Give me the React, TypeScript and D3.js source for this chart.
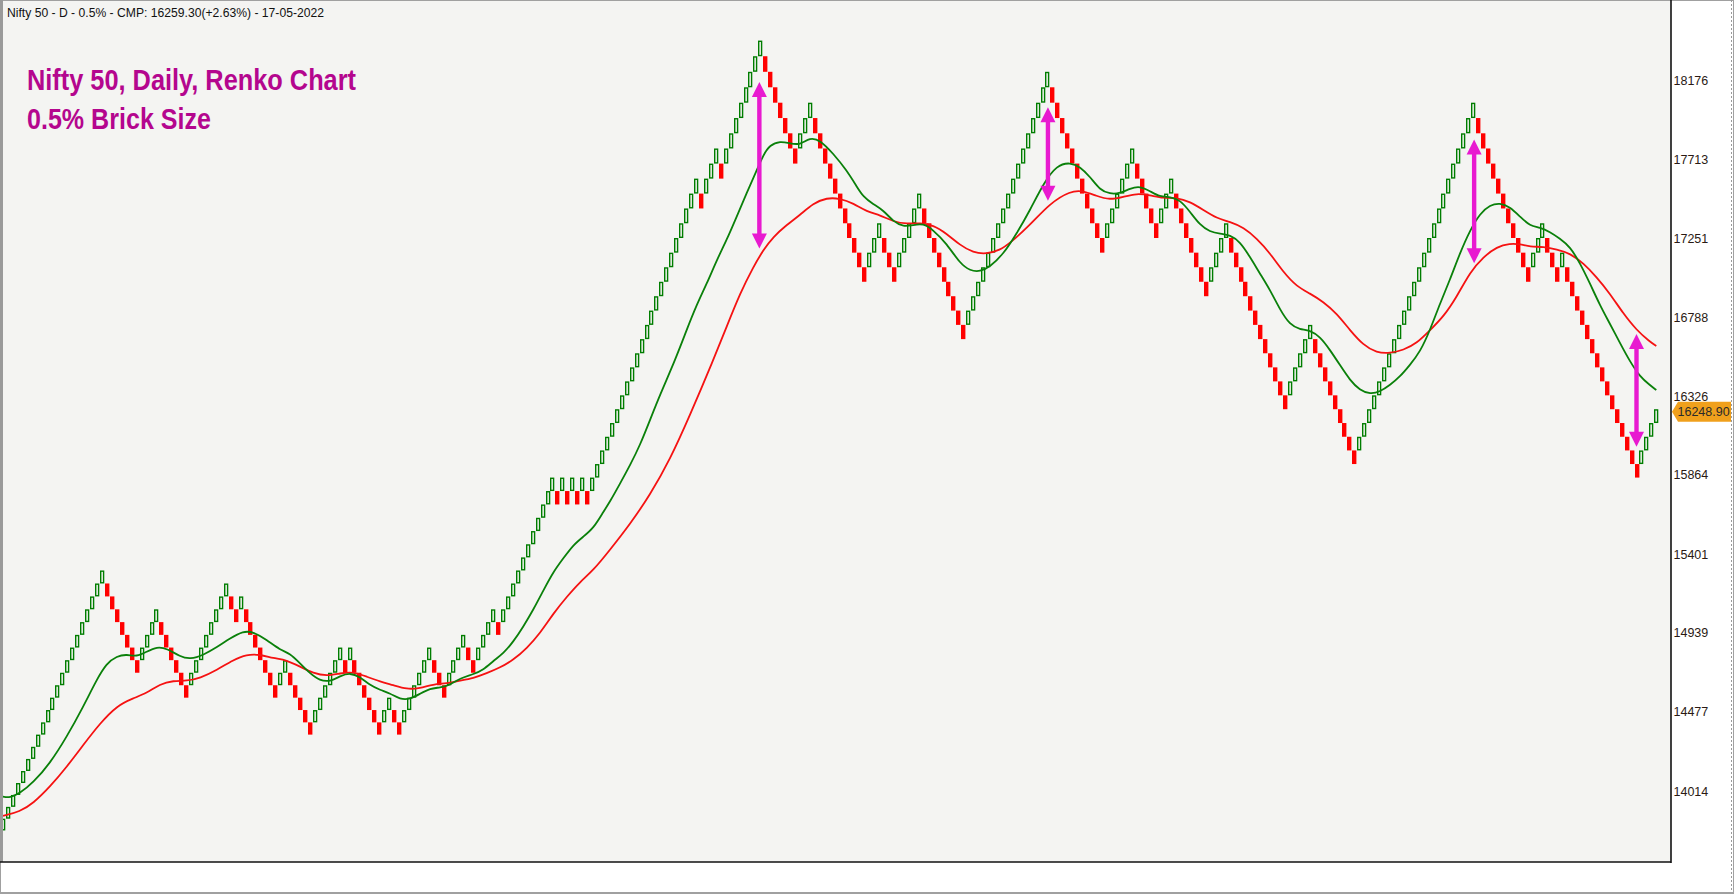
import React, { useEffect, useRef } from 'react';
import * as d3 from 'd3';

// Renko settings
const BRICK_PCT = 0.5;
const START_PRICE = 13783.0;
const LAST_CLOSE = 16248.9;

// consecutive brick runs, + = up (green), - = down (red)
const brickRuns = [
  21, -7, 4, -6, 8, -2, 1, -7, 2, -5, 6, -1, 1, -6, 2, -2, 6, -3, 4, -2, 4, -1,
  11, -1, 1, -1, 1, -1, 1, -1, 22, -1, 3, -1, 8, -7, 3, -11, 3, -3, 5, -9, 17,
  -11, 6, -5, 3, -7, 4, -12, 5, -9, 24, -11, 3, -3, 1, -15, 4,
];

const yTickValues = [14014, 14477, 14939, 15401, 15864, 16326, 16788, 17251, 17713, 18176];

// fast moving average [brick index, price]
const greenMa: [number, number][] = [
  [0, 13981], [1.4, 13975], [3.4, 14000], [6.1, 14063], [9.5, 14176], [12.9, 14332],
  [16.2, 14507], [18.9, 14664], [20.9, 14761], [23, 14804], [25, 14814], [27, 14800],
  [29, 14829], [31.1, 14859], [33.1, 14849], [35.8, 14800], [37.8, 14785], [40.5, 14810],
  [43.2, 14855], [45.9, 14908], [48.5, 14950], [50.6, 14946], [53.3, 14898], [56, 14839],
  [58, 14820], [60, 14761], [62, 14703], [64, 14660], [66.1, 14654], [68.1, 14687],
  [70.1, 14706], [72.1, 14683], [74.1, 14634], [76.2, 14605], [78.2, 14586], [80.2, 14551],
  [82.2, 14551], [84.2, 14582], [86.3, 14615], [88.3, 14619], [90.3, 14634], [92.3, 14674],
  [95, 14697], [97, 14722], [99.1, 14777], [101.1, 14820], [103.1, 14888], [105.1, 14976],
  [107.1, 15073], [109.2, 15190], [111.2, 15298], [113.2, 15376], [115.2, 15454],
  [117.2, 15502], [119.3, 15552], [121.3, 15649], [122.6, 15707], [124.6, 15811],
  [126.7, 15922], [128.7, 16039], [130.7, 16185], [132.7, 16332], [135.8, 16537],
  [138.1, 16712], [140.1, 16858], [142.2, 16985], [144.2, 17122], [146.2, 17240],
  [148.2, 17375], [150.2, 17512], [152.3, 17649], [153.6, 17737], [154.9, 17795],
  [157, 17819], [159, 17805], [161, 17795], [163, 17840], [165.1, 17824], [167.7, 17746],
  [170.4, 17649], [172.5, 17551], [173.8, 17492], [175.8, 17449], [177.8, 17415],
  [179.9, 17346], [181.9, 17317], [183.9, 17327], [185.9, 17337], [187.9, 17298],
  [190.6, 17220], [193.3, 17103], [195.4, 17059], [197.4, 17054], [199.4, 17083],
  [202.1, 17157], [204.8, 17278], [207.5, 17415], [210.2, 17571], [212.9, 17678],
  [215.6, 17694], [217.6, 17668], [219.6, 17610], [221.6, 17532], [223.6, 17509],
  [225.7, 17512], [227.7, 17542], [229.7, 17555], [231.7, 17526], [233.7, 17492],
  [235.8, 17492], [237.8, 17474], [239.8, 17405], [241.8, 17327], [243.8, 17288],
  [245.9, 17275], [247.9, 17269], [249.9, 17229], [251.9, 17141], [253.9, 17044],
  [256, 16946], [258, 16830], [260, 16742], [262, 16716], [264, 16712], [266.1, 16673],
  [268.1, 16595], [270.1, 16507], [272.1, 16419], [274.1, 16360], [276.2, 16337],
  [278.2, 16351], [280.2, 16390], [282.2, 16439], [284.2, 16507], [286.3, 16585],
  [288.3, 16712], [290.3, 16868], [292.3, 17005], [294.3, 17161], [296.4, 17298],
  [298.4, 17395], [300.4, 17444], [302.4, 17457], [304.4, 17434], [306.5, 17375],
  [308.5, 17321], [310.5, 17313], [312.5, 17287], [314.5, 17248], [316.6, 17200],
  [318.6, 17103], [320.6, 16985], [322.6, 16858], [324.6, 16751], [326.7, 16634],
  [328.7, 16527], [330.7, 16439], [332.7, 16390], [334, 16361],
];

// slow moving average [brick index, price]
const redMa: [number, number][] = [
  [0, 13868], [3.4, 13893], [6.1, 13942], [9.5, 14039], [12.9, 14156], [16.2, 14283],
  [19.6, 14410], [23, 14513], [26.3, 14557], [29, 14586], [31.7, 14640], [34.4, 14660],
  [37.1, 14658], [39.8, 14674], [43.2, 14722], [46.5, 14781], [49.2, 14814], [51.9, 14814],
  [54.6, 14791], [57.3, 14781], [60, 14742], [62.7, 14703], [65.4, 14687], [68.1, 14703],
  [70.8, 14712], [73.5, 14683], [76.2, 14654], [78.8, 14634], [81.6, 14609], [84.2, 14615],
  [86.9, 14639], [89.6, 14644], [92.3, 14660], [95, 14674], [97.7, 14703], [100.4, 14736],
  [103.1, 14781], [105.8, 14849], [108.5, 14937], [111.2, 15054], [113.9, 15151],
  [116.6, 15239], [119.3, 15307], [122.6, 15425], [126.7, 15577], [130.7, 15747],
  [134.7, 15951], [138.8, 16215], [143.5, 16537], [146.2, 16732], [148.9, 16927],
  [151.6, 17083], [153.6, 17181], [155.6, 17258], [158.3, 17327], [161, 17386],
  [163.7, 17454], [166.4, 17487], [169.1, 17483], [171.8, 17454], [174.5, 17405],
  [177.2, 17386], [179.9, 17346], [182.6, 17333], [185.3, 17340], [187.9, 17327],
  [190.6, 17278], [193.3, 17210], [196, 17165], [198.7, 17157], [201.4, 17180],
  [203.4, 17220], [207.5, 17327], [211.5, 17454], [215.6, 17526], [218.2, 17528],
  [220.9, 17497], [223.6, 17474], [226.3, 17492], [229, 17512], [231.7, 17502],
  [234.4, 17483], [237.1, 17489], [239.8, 17463], [242.5, 17415], [245.2, 17366],
  [247.9, 17346], [250.6, 17313], [253.3, 17248], [256, 17161], [258.6, 17053],
  [261.4, 16966], [264, 16927], [266.7, 16878], [269.4, 16810], [272.1, 16712],
  [274.8, 16624], [277.5, 16579], [280.2, 16576], [282.9, 16595], [285.6, 16634],
  [288.3, 16712], [291, 16790], [293.7, 16907], [296.4, 17053], [299.1, 17141],
  [301.8, 17200], [304.4, 17219], [306.5, 17215], [308.5, 17200], [311.2, 17200],
  [313.9, 17185], [316.6, 17161], [319.3, 17103], [321.9, 17024], [324.6, 16927],
  [327.3, 16810], [330, 16712], [332.7, 16644], [334, 16619],
];

// annotation arrows: brick index, top price, bottom price
const arrows = [
  { col: 152.8, hi: 18165, lo: 17190 },
  { col: 211.1, hi: 18017, lo: 17469 },
  { col: 297.2, hi: 17828, lo: 17103 },
  { col: 330.0, hi: 16689, lo: 16029 },
];

const headerText = 'Nifty 50 - D - 0.5% - CMP: 16259.30(+2.63%) - 17-05-2022';
const titleLines = ['Nifty 50, Daily, Renko Chart', '0.5% Brick Size'];

const W = 1734;
const H = 894;
const plot = { left: 2.5, right: 1671, top: 1, bottom: 862 };

const App: React.FC = () => {
  const svgRef = useRef<SVGSVGElement>(null);

  useEffect(() => {
    if (!svgRef.current) return;
    const svg = d3.select(svgRef.current);
    svg.selectAll('*').remove();

    // build bricks from the runs
    const mult = 1 + BRICK_PCT / 100;
    const bricks: { i: number; up: boolean; lo: number; hi: number }[] = [];
    brickRuns.forEach((run) => {
      const up = run > 0;
      for (let k = 0; k < Math.abs(run); k++) {
        const prev = bricks[bricks.length - 1];
        let lo: number, hi: number;
        if (!prev) {
          lo = up ? 0 : -1;
          hi = lo + 1;
        } else if (up) {
          lo = prev.hi;
          hi = lo + 1;
        } else {
          hi = prev.lo;
          lo = hi - 1;
        }
        bricks.push({ i: bricks.length, up, lo, hi });
      }
    });
    const price = (lvl: number) => START_PRICE * Math.pow(mult, lvl);

    const x = d3.scaleLinear().domain([0, 334]).range([3, 1656.3]);
    const y = d3.scaleLinear().domain([14014, 18176]).range([791, 80]);

    // backgrounds
    svg.append('rect').attr('width', W).attr('height', H).attr('fill', '#ffffff');
    svg
      .append('rect')
      .attr('x', 0.5)
      .attr('y', 0.5)
      .attr('width', W - 1)
      .attr('height', H - 1)
      .attr('fill', 'none')
      .attr('stroke', '#a0a0a0');

    svg
      .append('rect')
      .attr('x', plot.left)
      .attr('y', plot.top)
      .attr('width', plot.right - plot.left)
      .attr('height', plot.bottom - plot.top)
      .attr('fill', '#f4f4f2');

    svg
      .append('defs')
      .append('clipPath')
      .attr('id', 'plot-clip')
      .append('rect')
      .attr('x', plot.left)
      .attr('y', plot.top)
      .attr('width', plot.right - plot.left)
      .attr('height', plot.bottom - plot.top);

    const g = svg.append('g').attr('clip-path', 'url(#plot-clip)');

    // bricks, snapped to whole pixels
    const left = (i: number) => Math.round(x(i) - 2);
    g.selectAll('rect.up')
      .data(bricks.filter((b) => b.up))
      .enter()
      .append('rect')
      .attr('class', 'up')
      .attr('x', (d) => left(d.i) + 0.7)
      .attr('y', (d) => y(price(d.hi)) + 0.7)
      .attr('width', 2.9)
      .attr('height', (d) => y(price(d.lo)) - y(price(d.hi)) - 1.4)
      .attr('fill', 'none')
      .attr('stroke', '#007d00')
      .attr('stroke-width', 1.4);

    g.selectAll('rect.down')
      .data(bricks.filter((b) => !b.up))
      .enter()
      .append('rect')
      .attr('class', 'down')
      .attr('x', (d) => left(d.i))
      .attr('y', (d) => y(price(d.hi)))
      .attr('width', 4.4)
      .attr('height', (d) => y(price(d.lo)) - y(price(d.hi)))
      .attr('fill', '#ff0000');

    // moving averages
    const line = d3
      .line<[number, number]>()
      .x((d) => x(d[0]))
      .y((d) => y(d[1]))
      .curve(d3.curveBasis);

    g.append('path')
      .attr('d', line(redMa))
      .attr('fill', 'none')
      .attr('stroke', '#f51212')
      .attr('stroke-width', 1.8);

    g.append('path')
      .attr('d', line(greenMa))
      .attr('fill', 'none')
      .attr('stroke', '#0a800a')
      .attr('stroke-width', 1.8);

    // arrows
    const head = 15;
    const halfHead = 7.5;
    arrows.forEach((a) => {
      const cx = x(a.col);
      const yt = y(a.hi);
      const yb = y(a.lo);
      const ag = g.append('g').attr('fill', '#e81ad0');
      ag.append('rect')
        .attr('x', cx - 2.2)
        .attr('y', yt + head - 1)
        .attr('width', 4.4)
        .attr('height', yb - yt - 2 * head + 2);
      ag.append('path').attr(
        'd',
        `M${cx},${yt} L${cx + halfHead},${yt + head} L${cx - halfHead},${yt + head} Z`,
      );
      ag.append('path').attr(
        'd',
        `M${cx},${yb} L${cx + halfHead},${yb - head} L${cx - halfHead},${yb - head} Z`,
      );
    });

    // plot borders
    svg
      .append('line')
      .attr('x1', 1.5)
      .attr('x2', 1.5)
      .attr('y1', 0)
      .attr('y2', plot.bottom)
      .attr('stroke', '#9a9a9a')
      .attr('stroke-width', 3);
    svg
      .append('line')
      .attr('x1', plot.right)
      .attr('x2', plot.right)
      .attr('y1', 0)
      .attr('y2', plot.bottom + 1)
      .attr('stroke', '#111')
      .attr('stroke-width', 1.6);
    svg
      .append('line')
      .attr('x1', 0)
      .attr('x2', plot.right)
      .attr('y1', plot.bottom)
      .attr('y2', plot.bottom)
      .attr('stroke', '#111')
      .attr('stroke-width', 1.6);
    svg
      .append('line')
      .attr('x1', 1731.5)
      .attr('x2', 1731.5)
      .attr('y1', 0)
      .attr('y2', H)
      .attr('stroke', '#9a9a9a')
      .attr('stroke-dasharray', '2,2');
    svg
      .append('line')
      .attr('x1', 0)
      .attr('x2', W)
      .attr('y1', H - 1)
      .attr('y2', H - 1)
      .attr('stroke', '#a0a0a0')
      .attr('stroke-width', 2);

    // y axis labels
    svg
      .append('g')
      .selectAll('text')
      .data(yTickValues)
      .enter()
      .append('text')
      .attr('x', 1673.5)
      .attr('y', (d) => y(d))
      .attr('dy', '0.36em')
      .attr('font-family', 'Arial, "Liberation Sans", sans-serif')
      .attr('font-size', 12.5)
      .attr('fill', '#2a1a14')
      .text((d) => d);

    // last price tag
    const ly = y(LAST_CLOSE) + 2.5;
    svg
      .append('path')
      .attr(
        'd',
        `M1672,${ly} L1678,${ly - 10} L1731,${ly - 10} L1731,${ly + 10} L1678,${ly + 10} Z`,
      )
      .attr('fill', '#f0a01c');
    svg
      .append('text')
      .attr('x', 1677.5)
      .attr('y', ly)
      .attr('dy', '0.36em')
      .attr('font-family', 'Arial, "Liberation Sans", sans-serif')
      .attr('font-size', 12.5)
      .attr('fill', '#2a2a2a')
      .text(LAST_CLOSE.toFixed(2));

    // header + title
    svg
      .append('text')
      .attr('x', 7)
      .attr('y', 17)
      .attr('font-family', 'Arial, "Liberation Sans", sans-serif')
      .attr('font-size', 12.5)
      .attr('fill', '#111')
      .attr('textLength', 317)
      .attr('lengthAdjust', 'spacingAndGlyphs')
      .text(headerText);

    const titleWidths = [329, 184];
    titleLines.forEach((t, i) => {
      svg
        .append('text')
        .attr('x', 27)
        .attr('y', 90 + i * 38.5)
        .attr('font-family', '"Liberation Sans Narrow", "Arial Narrow", Arial, sans-serif')
        .attr('font-weight', 'bold')
        .attr('font-size', 29)
        .attr('fill', '#b4068e')
        .attr('textLength', titleWidths[i])
        .attr('lengthAdjust', 'spacingAndGlyphs')
        .text(t);
    });
  }, []);

  return (
    <div style={{ position: 'absolute', left: 0, top: 0, width: W, height: H }}>
      <svg ref={svgRef} width={W} height={H} style={{ display: 'block' }} />
    </div>
  );
};

export default App;
